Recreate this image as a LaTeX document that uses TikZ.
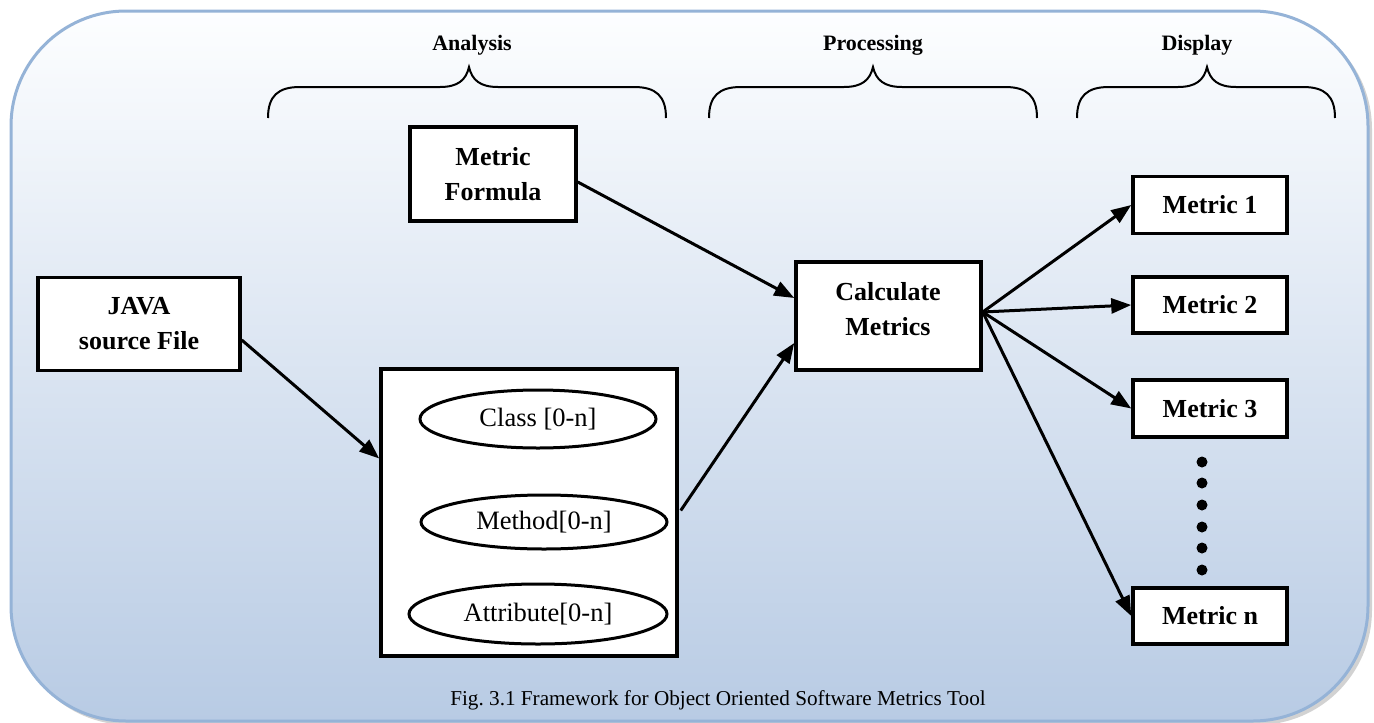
\documentclass[tikz,border=0pt]{standalone}
\usepackage{fontspec}
\setmainfont{Liberation Serif}
\usetikzlibrary{arrows.meta,shapes.geometric,calc}
\definecolor{bgtop}{HTML}{FDFEFF}
\definecolor{bgmid}{HTML}{DFE7F2}
\definecolor{bgbot}{HTML}{B8CBE4}
\definecolor{bgborder}{HTML}{95B3D7}
\frenchspacing
\begin{document}
\begin{tikzpicture}[x=1pt,y=-1pt,
  box/.style={draw=black,line width=3.5pt,fill=white,align=center,font=\fontsize{26}{35}\selectfont\bfseries,inner sep=0pt},
  boxtext/.style={align=center,font=\fontsize{26}{35}\selectfont\bfseries,inner sep=0pt},
  oval/.style={draw=black,line width=3pt,fill=white,ellipse,inner sep=0pt,font=\fontsize{26.5}{30}\selectfont},
  conn/.style={line width=3pt,-{Triangle[length=20pt,width=15pt]}},
  brace/.style={line width=2pt},
  stage/.style={font=\fontsize{22}{26}\selectfont\bfseries},
  dot/.style={circle,fill=black,inner sep=0pt,minimum size=11pt}]
\useasboundingbox (0,0) rectangle (1374,723);
% background panel
\fill[gray!70,opacity=0.5,rounded corners=115pt] (14,14) rectangle (1372,725);
\shadedraw[top color=bgtop,middle color=bgmid,bottom color=bgbot,draw=bgborder,line width=3pt,rounded corners=115pt] (11,11) rectangle (1368,721);
% braces
\draw[brace] (268,118) .. controls (268,96) and (278,87) .. (300,87) -- (440,87) .. controls (458,87) and (466,80) .. (469,67) .. controls (472,80) and (480,87) .. (498,87) -- (634,87) .. controls (656,87) and (666,96) .. (666,118);
\draw[brace] (709,118) .. controls (709,96) and (719,87) .. (741,87) -- (844,87) .. controls (862,87) and (870,80) .. (873,67) .. controls (876,80) and (884,87) .. (902,87) -- (1005,87) .. controls (1027,87) and (1037,96) .. (1037,118);
\draw[brace] (1077,118) .. controls (1077,96) and (1087,87) .. (1109,87) -- (1178,87) .. controls (1196,87) and (1204,80) .. (1207,67) .. controls (1210,80) and (1218,87) .. (1236,87) -- (1303,87) .. controls (1325,87) and (1335,96) .. (1335,118);
\node[stage] (analysis) at (472,45) {Analysis};
\node[stage] (processing) at (873,45) {Processing};
\node[stage] (display) at (1197,45) {Display};
% boxes
\node[box,minimum width=166pt,minimum height=94pt] (formula) at (493,174) {Metric\\Formula};
\node[box,minimum width=202pt,minimum height=93pt] (java) at (139,324) {JAVA\\source File};
\node[draw=black,line width=3.5pt,fill=white,minimum width=296pt,minimum height=287pt,inner sep=0pt] (container) at (529,512.5) {};
\node[oval,minimum width=236pt,minimum height=58pt] (cls) at (538,419) {Class [0-n]};
\node[oval,minimum width=246pt,minimum height=54pt] (meth) at (544,522) {Method[0-n]};
\node[oval,minimum width=258pt,minimum height=60pt] (attr) at (538,614) {Attribute[0-n]};
\node[box,minimum width=185pt,minimum height=108pt] (calc) at (888.5,316) {};
\node[boxtext] (calctext) at (888,309) {Calculate\\Metrics};
\node[box,minimum width=154pt,minimum height=57pt] (m1) at (1210,205) {Metric 1};
\node[box,minimum width=154pt,minimum height=56pt] (m2) at (1210,305) {Metric 2};
\node[box,minimum width=154pt,minimum height=57pt] (m3) at (1210,408.5) {Metric 3};
\node[box,minimum width=154pt,minimum height=56pt] (mn) at (1210,616) {Metric n};
% dots
\foreach \i/\y in {1/462,2/483,3/505,4/527,5/548,6/570}{
  \node[dot] (d\i) at (1202,\y) {};
}
% connectors
\draw[conn] ($(formula.east)+(0,8)$) -- ($(calc.west)+(0,-18)$);
\draw[conn] ($(java.east)+(0,16)$) -- ($(container.west)+(0,-54)$);
\draw[conn] ($(container.east)+(2,-2)$) -- ($(calc.west)+(0,27)$);
\coordinate (hub) at ($(calc.east)+(0,-4)$);
\draw[conn] (hub) -- (m1.west);
\draw[conn] (hub) -- (m2.west);
\draw[conn] (hub) -- (m3.west);
\draw[conn] (hub) -- (mn.west);
% caption
\node[font=\fontsize{21.2}{25}\selectfont] (caption) at (718,700) {Fig.\ 3.1 Framework for Object Oriented Software Metrics Tool};
\end{tikzpicture}
\end{document}
